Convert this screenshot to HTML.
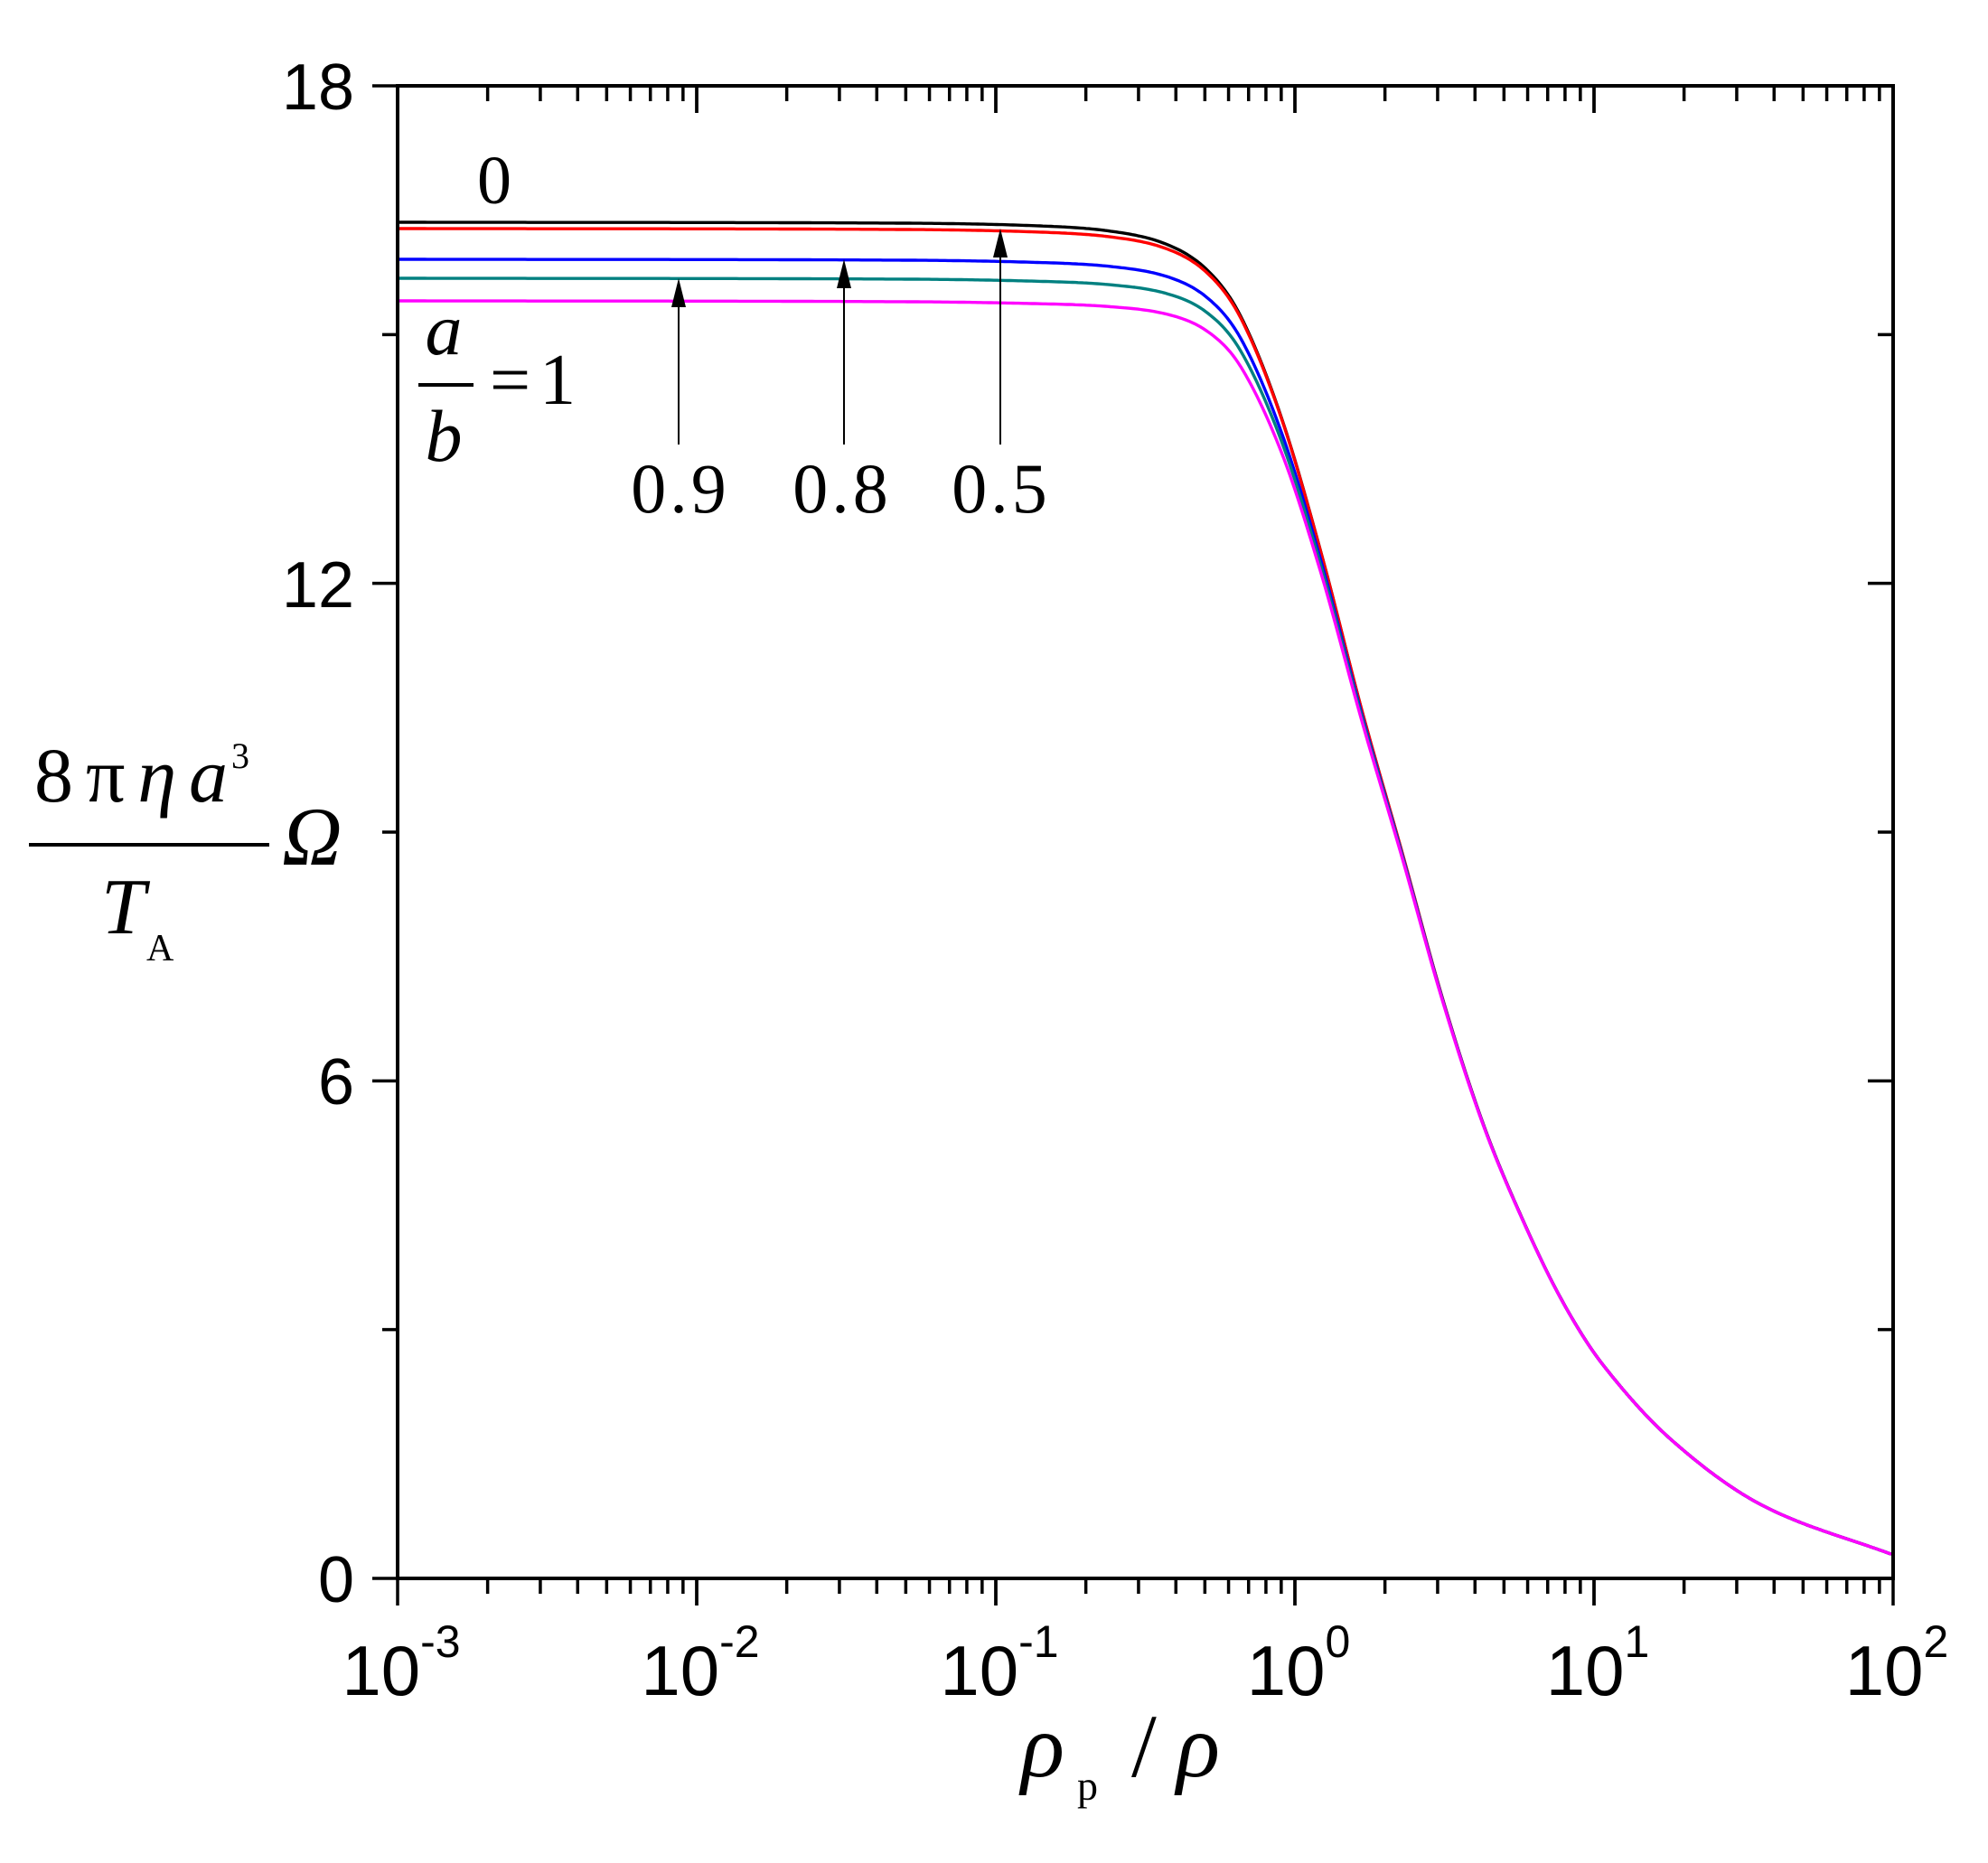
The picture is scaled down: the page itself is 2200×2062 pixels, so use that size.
<!DOCTYPE html>
<html><head><meta charset="utf-8"><style>
html,body{margin:0;padding:0;background:#fff;}
svg{display:block;}
</style></head><body>
<svg id="s" width="2200" height="2062" viewBox="0 0 2200 2062" xmlns="http://www.w3.org/2000/svg">
<rect width="2200" height="2062" fill="#fff"/>
<g id="curves" fill="none" stroke-width="3.4" stroke-linejoin="round"></g>
<g id="ticks" stroke="#000" stroke-width="3.5"></g>
<rect x="440" y="95" width="1655" height="1652" fill="none" stroke="#000" stroke-width="4"/>
<g font-family="Liberation Sans, Arial, sans-serif" font-size="72" text-anchor="end" fill="#000">
<text x="392" y="121">18</text>
<text x="392" y="672">12</text>
<text x="392" y="1222">6</text>
<text x="392" y="1773">0</text>
</g>
<g id="xl" font-family="Liberation Sans, Arial, sans-serif" fill="#000"></g>
<g font-family="Liberation Serif, Times New Roman, serif" fill="#000">
<text x="1130" y="1966" font-size="100" font-style="italic">ρ</text>
<text x="1192" y="1992" font-size="46">p</text>
<text x="1252" y="1966" font-size="100">/</text>
<text x="1302" y="1966" font-size="100" font-style="italic">ρ</text>
</g>
<g font-family="Liberation Serif, Times New Roman, serif" fill="#000">
<text x="38" y="887" font-size="86" textLength="214" lengthAdjust="spacing">8π<tspan font-style="italic">ηa</tspan></text>
<text x="256" y="850" font-size="40">3</text>
<rect x="32" y="933" width="266" height="4"/>
<text x="112" y="1033" font-size="88" font-style="italic">T</text>
<text x="162" y="1063" font-size="42">A</text>
<text x="312" y="957" font-size="92" font-style="italic">Ω</text>
</g>
<g font-family="Liberation Serif, Times New Roman, serif" fill="#000">
<text x="547" y="225" font-size="76" text-anchor="middle">0</text>
<text x="491" y="392" font-size="82" font-style="italic" text-anchor="middle">a</text>
<rect x="463" y="424" width="61" height="4"/>
<text x="491" y="510" font-size="82" font-style="italic" text-anchor="middle">b</text>
<text x="542" y="447" font-size="80" letter-spacing="10">=1</text>
<text x="753" y="567" font-size="78" text-anchor="middle" letter-spacing="4">0.9</text>
<text x="932" y="567" font-size="78" text-anchor="middle" letter-spacing="4">0.8</text>
<text x="1108" y="567" font-size="78" text-anchor="middle" letter-spacing="4">0.5</text>
</g>
<g id="arrows"></g>
</svg>
<script>
const NS="http://www.w3.org/2000/svg";
function el(tag,attrs,parent){const e=document.createElementNS(NS,tag);for(const k in attrs)e.setAttribute(k,attrs[k]);parent.appendChild(e);return e;}
const L=440,R=2095,T=95,B=1747,dec=(R-L)/5,unit=(B-T)/18;
const tk=document.getElementById('ticks');
for(let d=0;d<5;d++){for(let m=1;m<=10;m++){const x=L+dec*(d+Math.log10(m));const maj=(m==1||m==10);const len=maj?30:17;
el('line',{x1:x,y1:B,x2:x,y2:B+len},tk);el('line',{x1:x,y1:T,x2:x,y2:T+len},tk);}}
for(let v=0;v<=18;v+=3){const y=B-v*unit;const maj=v%6==0;const len=maj?28:17;
el('line',{x1:L,y1:y,x2:L-len,y2:y},tk);el('line',{x1:R,y1:y,x2:R-len,y2:y},tk);}
const xl=document.getElementById('xl');
['-3','-2','-1','0','1','2'].forEach((e,i)=>{const x=L+dec*i+4;const t=el('text',{x:x,y:1876,'text-anchor':'middle','font-size':78},xl);
const a=document.createElementNS(NS,'tspan');a.textContent='10';t.appendChild(a);
const b=document.createElementNS(NS,'tspan');b.setAttribute('font-size','50');b.setAttribute('dy','-42');b.textContent=e;t.appendChild(b);});
const M=[[440,246],[1000,247],[1150,250],[1230,256],[1290,270],[1335,298],[1373,350],[1418,462],[1462,612],[1507,786],[1552,945],[1596,1104],[1641,1243],[1686,1352],[1730,1442],[1775,1512],[1850,1594],[1950,1666],[2095,1721]];
function interp(x){for(let i=0;i<M.length-1;i++){if(x<=M[i+1][0]){const p0=M[Math.max(i-1,0)],p1=M[i],p2=M[i+1],p3=M[Math.min(i+2,M.length-1)];
const t=(x-p1[0])/(p2[0]-p1[0]);
const m1=(p2[1]-p0[1])/(p2[0]-p0[0])*(p2[0]-p1[0]);const m2=(p3[1]-p1[1])/(p3[0]-p1[0])*(p2[0]-p1[0]);
const t2=t*t,t3=t2*t;return (2*t3-3*t2+1)*p1[1]+(t3-2*t2+t)*m1+(-2*t3+3*t2)*p2[1]+(t3-t2)*m2;}}return M[M.length-1][1];}
const cg=document.getElementById('curves');
const series=[['#000000',246,1340,40],['#ff0000',253,1330,45],['#0000ff',287,1395,55],['#008080',308,1400,55],['#ff00ff',333,1405,55]];
series.forEach(([c,p,x0,w])=>{let d='';for(let x=L;x<=R;x+=3){const wt=1/(1+Math.exp((x-x0)/w));const y=interp(x)+(p-246)*wt;d+=(d?'L':'M')+x.toFixed(1)+','+y.toFixed(1);}
el('path',{d:d,stroke:c},cg);});
const ag=document.getElementById('arrows');
[[751,308],[934,287],[1107,253]].forEach(([x,tip])=>{el('line',{x1:x,y1:492,x2:x,y2:tip+20,stroke:'#000','stroke-width':2},ag);
el('polygon',{points:`${x},${tip} ${x-8},${tip+32} ${x+8},${tip+32}`,fill:'#000'},ag);});
</script>
</body></html>
